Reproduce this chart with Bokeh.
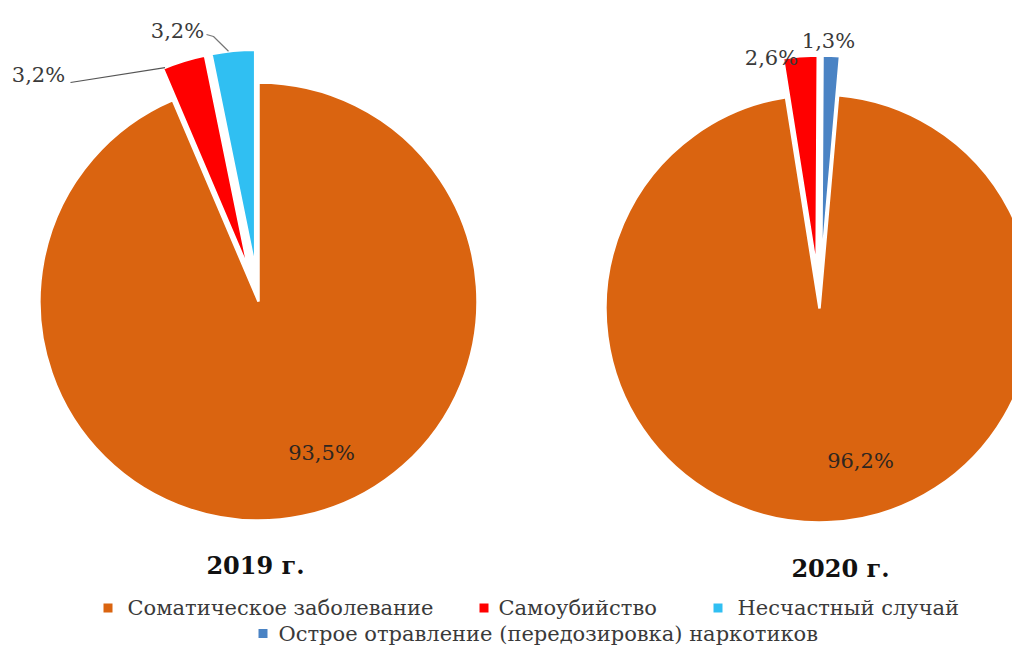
import math
from bokeh.plotting import figure
from bokeh.models import Range1d
from bokeh.embed import file_html
from bokeh.resources import INLINE
from bokeh.core.properties import value

# ---------------- data ----------------
categories = ["Соматическое заболевание", "Самоубийство", "Несчастный случай",
              "Острое отравление (передозировка) наркотиков"]
colors = ["#DA6410", "#FF0000", "#30BFF2", "#4A83C4"]
years = ["2019 г.", "2020 г."]
share_2019 = [93.5, 3.2, 3.2, 0.0]
share_2020 = [96.2, 2.6, 0.0, 1.3]
order_2019 = [0, 1, 2]      # clockwise order of slices
order_2020 = [0, 1, 3]

# ---------------- layout ----------------
W, H = 1012, 646
def Y(py):
    return 646 - py

p = figure(width=W, height=H, x_range=Range1d(0, 1012), y_range=Range1d(0, 646),
           output_backend="svg", toolbar_location=None, min_border=0,
           x_axis_location=None, y_axis_location=None)
p.grid.visible = False
p.outline_line_color = None
p.background_fill_color = "white"
p.border_fill_color = "white"

FONT = value("DejaVu Serif")
TXT = "#3a3a3a"

pies = [
    dict(shares=share_2019, order=order_2019, cx=258, cy=Y(301), r=219, start=90.0, explode=33,
         label_pos={0: (321, 452), 1: (38, 74), 2: (177, 30)},
         title_pos=(255, 565)),
    dict(shares=share_2020, order=order_2020, cx=819, cy=Y(308), r=214, start=85.0, explode=39,
         label_pos={0: (860, 460), 1: (771, 57), 3: (828, 40)},
         title_pos=(840, 568)),
]

def fmt(v):
    return ("%.1f%%" % v).replace(".", ",")

slice_geom = []
for k, pie in enumerate(pies):
    total = sum(pie["shares"][i] for i in pie["order"])
    cum = 0.0
    geom = {}
    for i in pie["order"]:
        v = pie["shares"][i]
        a0 = pie["start"] - 360.0 * cum / total
        cum += v
        a1 = pie["start"] - 360.0 * cum / total
        mid = math.radians((a0 + a1) / 2)
        d = 0 if i == 0 else pie["explode"]
        cx = pie["cx"] + d * math.cos(mid)
        cy = pie["cy"] + d * math.sin(mid)
        geom[i] = (cx, cy, a0, a1)
        p.wedge(x=cx, y=cy, radius=pie["r"], start_angle=math.radians(a1),
                end_angle=math.radians(a0), fill_color=colors[i],
                line_color="white", line_width=2.5)
    slice_geom.append(geom)
    # data labels
    for i, (lx, ly) in pie["label_pos"].items():
        p.text(x=[lx], y=[Y(ly)], text=[fmt(pie["shares"][i])], text_font=FONT,
               text_font_size="21px", text_color="#2e2620" if i == 0 else TXT,
               text_align="center", text_baseline="middle")
    # year title
    tx, ty = pie["title_pos"]
    p.text(x=[tx], y=[Y(ty)], text=[years[k]], text_font=FONT, text_font_size="24px",
           text_font_style="bold", text_color="#111111", text_align="center",
           text_baseline="middle")

# leader lines (2019 small slices); a1 = clockwise end (right edge), a0 = left edge
r0 = pies[0]["r"]
cx, cy, a_start, a_end = slice_geom[0][1]
ang = math.radians(a_end - 360 + 360 if a_end > 0 else a_end)
ang = math.radians(((a_start % 360) - 0.6))
p.line(x=[70, cx + r0 * math.cos(ang)], y=[Y(82), cy + r0 * math.sin(ang)],
       line_color="#555555", line_width=1.2)
cx, cy, a_start, a_end = slice_geom[0][2]
ang = math.radians(((a_end % 360) + 7))
p.line(x=[206, 213, cx + r0 * math.cos(ang)], y=[Y(34), Y(36), cy + r0 * math.sin(ang)],
       line_color="#777777", line_width=1.2)

# legend
leg_sq = [(107.5, 607.5), (483.5, 607.5), (717.5, 607.5), (262.5, 633)]
leg_tx = [(127, 607), (498, 607), (737, 607), (278, 633)]
for i, cat in enumerate(categories):
    sx, sy = leg_sq[i]
    p.scatter(x=[sx], y=[Y(sy)], marker="square", size=9, fill_color=colors[i],
              line_color=None)
    tx, ty = leg_tx[i]
    p.text(x=[tx], y=[Y(ty)], text=[cat], text_font=FONT, text_font_size="21px",
           text_color=TXT, text_align="left", text_baseline="middle")

open("out.html", "w").write(file_html(p, INLINE))
